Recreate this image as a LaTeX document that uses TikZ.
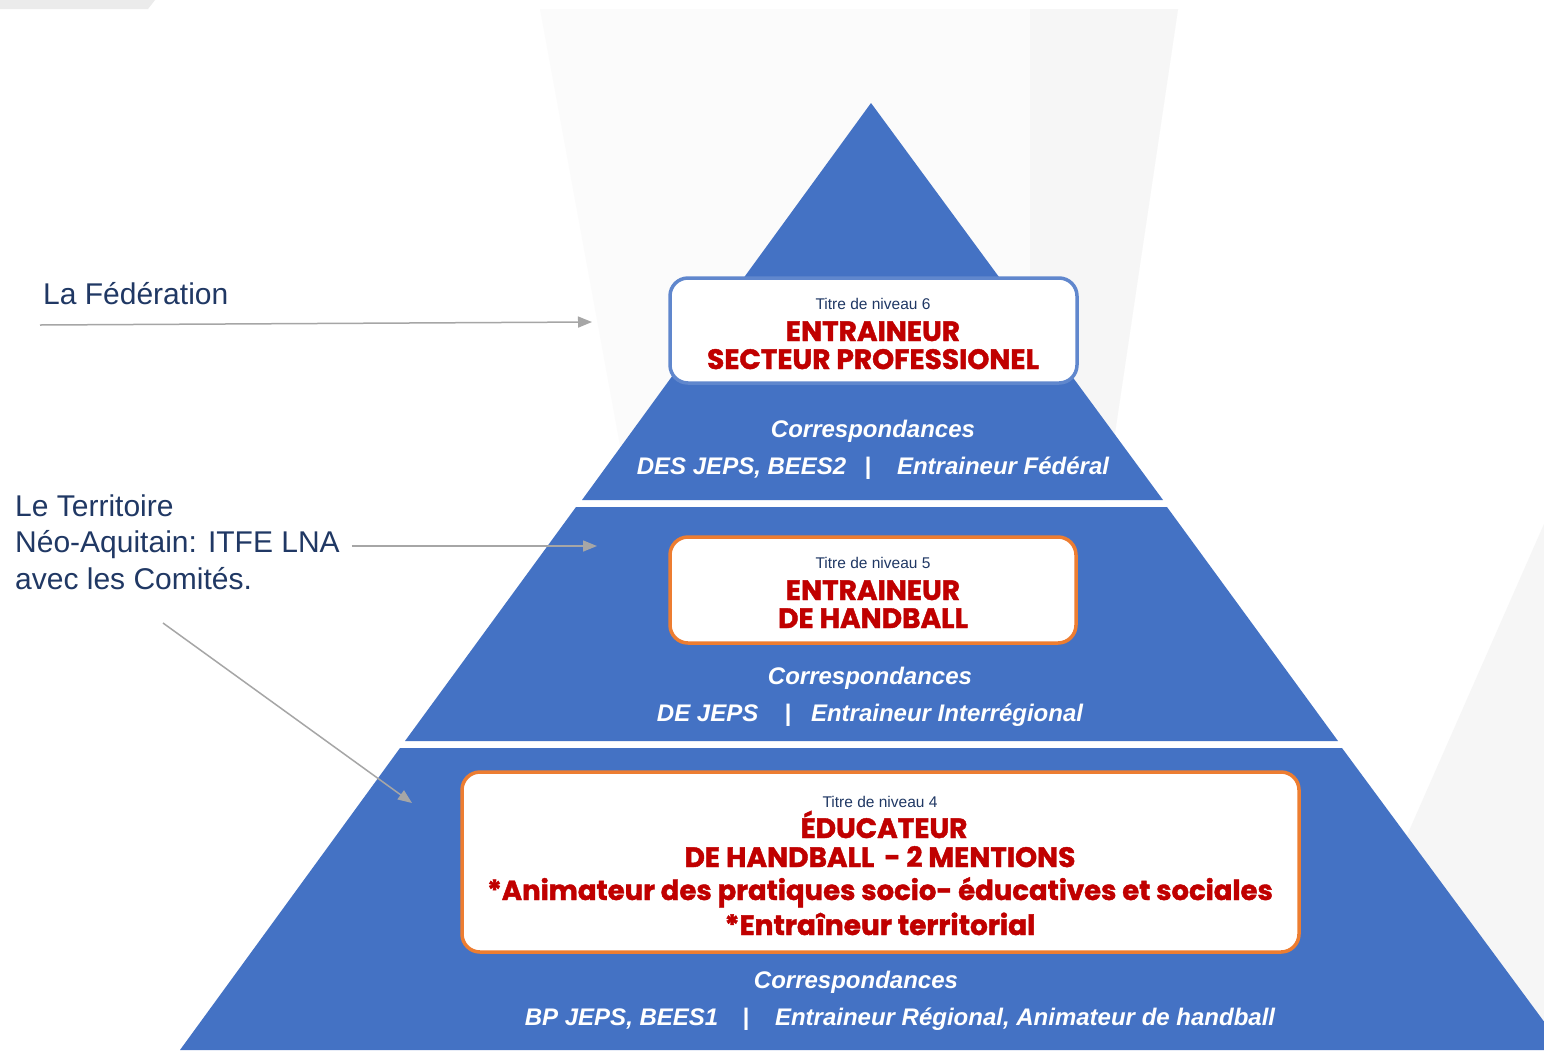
\documentclass[tikz,border=0pt]{standalone}
\usepackage{fontspec}
\setmainfont{Liberation Sans}
\newfontfamily\heavyfont{Poppins}
\usetikzlibrary{positioning}
\usetikzlibrary{arrows.meta}

\definecolor{pyrblue}{HTML}{4472C4}
\definecolor{boxorange}{HTML}{ED7D31}
\definecolor{titlered}{HTML}{C00000}
\definecolor{navy}{HTML}{203864}
\definecolor{arrowgray}{HTML}{A6A6A6}

\begin{document}
\begin{tikzpicture}[x=1pt, y=-1pt,
  levelbox/.style={draw=boxorange, fill=white, line width=3.5pt, rounded corners=18pt},
  smalltitle/.style={anchor=base, text=navy, font=\fontsize{15.5}{18}\selectfont},
  redtitle/.style={anchor=base, text=titlered, font=\heavyfont\bfseries\addfontfeature{FakeBold=1.5}\fontsize{28}{32}\selectfont},
  corresp/.style={anchor=base, text=white, font=\bfseries\itshape\fontsize{24}{28}\selectfont},
  sidetext/.style={anchor=base west, inner sep=0pt, text=navy, font=\fontsize{30}{36}\selectfont},
  pointer/.style={draw=arrowgray, line width=1.5pt, -{Triangle[length=14pt,width=11pt]}}]
\clip (0,0) rectangle (1544,1050);
\fill[white] (0,0) rectangle (1544,1050);
% faint background
\fill[black!8!white] (0,0) -- (155,0) -- (148,9) -- (0,9) -- cycle;
\fill[black!1.5!white] (540,9) -- (1178,9) -- (1105,500) -- (630,500) -- cycle;
\fill[black!3.5!white] (1030,9) -- (1178,9) -- (1105,500) -- (1030,500) -- cycle;
\fill[black!3.5!white] (1544,524) -- (1405,840) -- (1300,1050) -- (1544,1050) -- cycle;
% pyramid
\fill[pyrblue] (871,103) -- (1163,500) -- (582,500) -- cycle;
\fill[pyrblue] (576,507) -- (1167,507) -- (1338,741) -- (405,741) -- cycle;
\fill[pyrblue] (400,748) -- (1342,748) -- (1565,1050) -- (180,1050) -- cycle;
% level 6
\node[levelbox, draw=pyrblue!85!white, minimum width=407pt, minimum height=105pt] (L6) at (873.5,330.5) {};
\node[smalltitle] (L6t) at (873,309) {Titre de niveau 6};
\node[redtitle] (L6a) at (873,341) {ENTRAINEUR};
\node[redtitle] (L6b) at (873,369) {SECTEUR PROFESSIONEL};
\node[corresp] (C6) at (873,437) {Correspondances};
\node[corresp] (C6l) at (873,474) {DES JEPS, BEES2\hspace{18pt}|\hspace{26pt}Entraineur Fédéral};
% level 5
\node[levelbox, minimum width=406pt, minimum height=106pt] (L5) at (873,590) {};
\node[smalltitle] (L5t) at (873,568) {Titre de niveau 5};
\node[redtitle] (L5a) at (873,600) {ENTRAINEUR};
\node[redtitle] (L5b) at (873,628) {DE HANDBALL};
\node[corresp] (C5) at (870,684) {Correspondances};
\node[corresp] (C5l) at (870,721) {DE JEPS\hspace{26pt}|\hspace{20pt}Entraineur Interrégional};
% level 4
\node[levelbox, minimum width=837pt, minimum height=180pt] (L4) at (880.5,862) {};
\node[smalltitle] (L4t) at (880,807) {Titre de niveau 4};
\node[redtitle] (L4a) at (884,838) {ÉDUCATEUR};
\node[redtitle] (L4b) at (880,867) {DE HANDBALL\hspace{10pt}- 2 MENTIONS};
\node[redtitle, font=\heavyfont\bfseries\addfontfeature{FakeBold=1.5}\fontsize{27.5}{32}\selectfont] (L4c) at (880,900) {*Animateur des pratiques socio- éducatives et sociales};
\node[redtitle] (L4d) at (880,935) {*Entraîneur territorial};
\node[corresp] (C4) at (856,988) {Correspondances};
\node[corresp] (C4l) at (900,1025) {BP JEPS, BEES1\hspace{24pt}|\hspace{26pt}Entraineur Régional, Animateur de handball};
% side labels
\node[sidetext] (fed) at (43,304) {La Fédération};
\node[sidetext] (terr1) at (15,516) {Le Territoire};
\node[sidetext] (terr2) at (15,552) {Néo-Aquitain: ITFE LNA};
\node[sidetext] (terr3) at (15,589) {avec les Comités.};
\coordinate (fedstart) at (40,325);
\coordinate (fedtip) at (592,322);
\coordinate (terrtip) at (597,546);
\coordinate (comstart) at (163,623);
\coordinate (comtip) at (412,803);
\draw[pointer] (fedstart) -- (fedtip);
\draw[pointer] (terr2.east |- terrtip) ++(12,0) -- (terrtip);
\draw[pointer] (comstart) -- (comtip);
\end{tikzpicture}
\end{document}
